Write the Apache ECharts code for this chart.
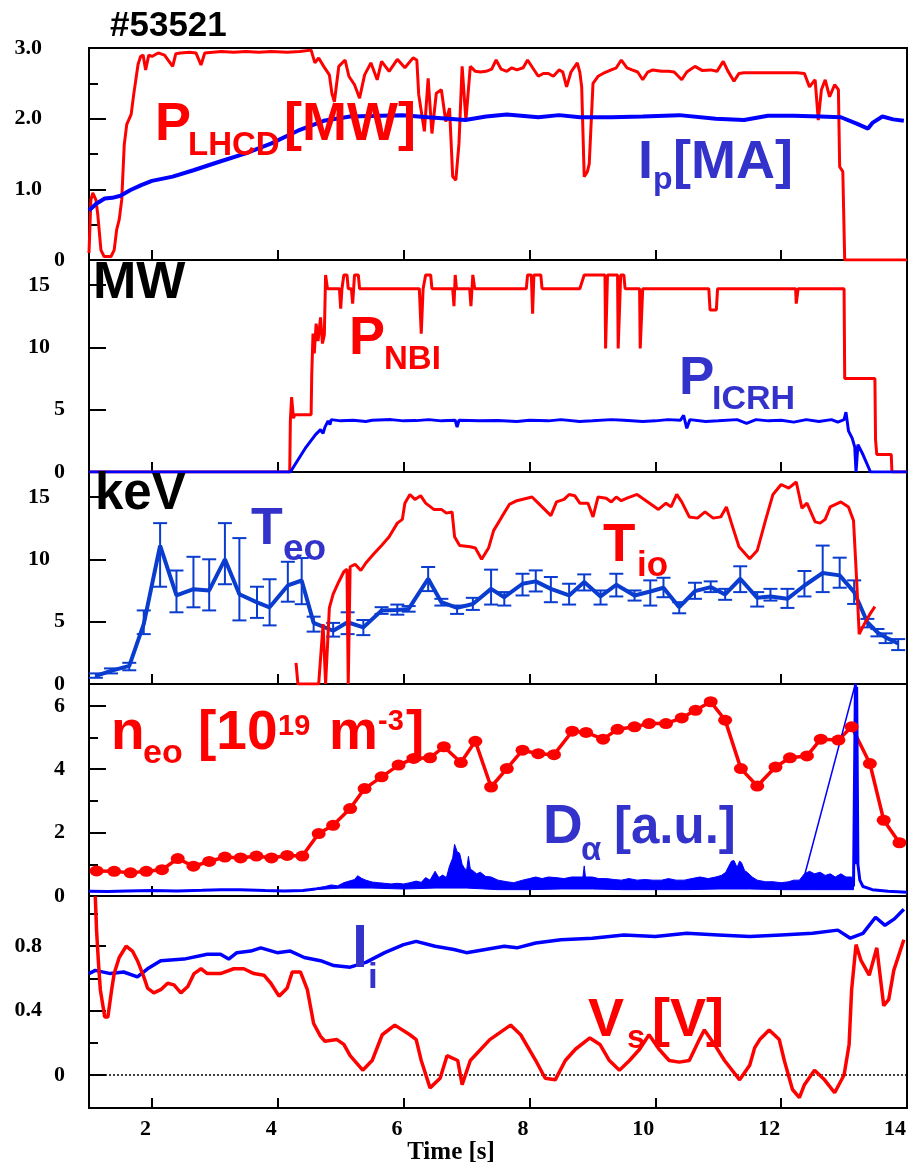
<!DOCTYPE html>
<html>
<head>
<meta charset="utf-8">
<script src="https://cdn.jsdelivr.net/npm/echarts@6/dist/echarts.min.js"></script>
<style>
html,body{margin:0;padding:0;background:#fff;}
#chart{width:911px;height:1169px;}
</style>
</head>
<body>
<div id="chart"></div>
<script>
// ---------------- DATA ----------------
const shotLabel = '#53521';
const timeTicks = [2, 4, 6, 8, 10, 12, 14];

// Panel 1: P_LHCD [MW] and Ip [MA]
const pLHCD = [[1.0,0.1],[1.03,0.85],[1.06,0.95],[1.11,0.85],[1.14,0.64],[1.19,0.14],[1.24,0.05],[1.35,0.05],[1.40,0.14],[1.44,0.43],[1.48,0.57],[1.52,0.85],[1.56,1.63],[1.60,1.92],[1.67,2.06],[1.71,2.34],[1.78,2.77],[1.82,2.88],[1.86,2.9],[1.9,2.69],[1.95,2.9],[2.0,2.88],[2.1,2.93],[2.2,2.9],[2.33,2.74],[2.38,2.92],[2.45,2.93],[2.6,2.94],[2.7,2.93],[2.78,2.76],[2.84,2.93],[2.87,2.94],[3.1,2.95],[3.3,2.94],[3.49,2.95],[3.7,2.94],[3.9,2.95],[4.15,2.94],[4.35,2.95],[4.53,2.97],[4.59,2.79],[4.65,2.86],[4.73,2.74],[4.82,2.62],[4.86,2.36],[4.9,2.24],[4.97,2.74],[5.07,2.83],[5.13,2.6],[5.22,2.48],[5.3,2.29],[5.38,2.62],[5.48,2.79],[5.58,2.55],[5.65,2.81],[5.77,2.67],[5.9,2.84],[6.02,2.72],[6.15,2.86],[6.21,2.83],[6.24,2.34],[6.33,1.82],[6.39,2.57],[6.45,1.79],[6.52,2.36],[6.6,2.41],[6.67,1.96],[6.73,2.15],[6.78,1.18],[6.83,1.13],[6.88,1.65],[6.93,2.74],[6.99,1.98],[7.06,2.74],[7.14,2.67],[7.22,2.66],[7.31,2.67],[7.4,2.7],[7.47,2.83],[7.55,2.7],[7.64,2.67],[7.72,2.72],[7.8,2.69],[7.9,2.72],[7.97,2.83],[8.05,2.72],[8.14,2.6],[8.22,2.64],[8.3,2.64],[8.38,2.6],[8.47,2.69],[8.53,2.66],[8.59,2.45],[8.66,2.66],[8.76,2.79],[8.8,2.66],[8.83,2.45],[8.87,1.18],[8.92,1.25],[8.95,1.36],[9.01,2.5],[9.09,2.6],[9.17,2.64],[9.3,2.69],[9.38,2.72],[9.46,2.83],[9.55,2.72],[9.63,2.69],[9.72,2.66],[9.8,2.55],[9.88,2.66],[9.96,2.69],[10.1,2.67],[10.21,2.67],[10.3,2.66],[10.42,2.55],[10.5,2.66],[10.63,2.74],[10.75,2.68],[10.88,2.69],[10.98,2.67],[11.08,2.81],[11.15,2.68],[11.25,2.53],[11.33,2.64],[11.41,2.65],[11.6,2.65],[11.79,2.65],[12.0,2.65],[12.12,2.65],[12.25,2.65],[12.37,2.64],[12.45,2.45],[12.54,2.55],[12.59,1.98],[12.64,2.41],[12.7,2.55],[12.77,2.31],[12.85,2.48],[12.91,2.41],[12.93,1.32],[12.98,1.25],[13.01,0],[14,0]];
const ip = [[1.0,0.70],[1.12,0.80],[1.25,0.87],[1.37,0.88],[1.5,0.91],[1.66,0.99],[1.83,1.06],[2.0,1.12],[2.33,1.18],[2.66,1.27],[3.07,1.39],[3.49,1.51],[3.9,1.65],[4.32,1.83],[4.73,1.97],[5.15,2.03],[5.98,2.05],[6.39,2.02],[6.98,1.98],[7.31,2.03],[7.64,2.06],[8.14,2.02],[8.47,2.05],[8.8,2.02],[9.3,2.02],[9.8,2.03],[10.38,2.05],[10.96,2.0],[11.41,1.98],[11.79,2.04],[12.2,2.04],[12.62,2.03],[12.95,2.02],[13.2,1.93],[13.38,1.86],[13.45,1.94],[13.61,2.03],[13.78,1.99],[13.95,1.97]];

// Panel 2: P_NBI and P_ICRH [MW]
const pNBI = [[1.0,0],[4.19,0],[4.2,4.1],[4.22,6.0],[4.25,4.3],[4.27,4.6],[4.53,4.6],[4.54,7.8],[4.56,11.1],[4.58,9.5],[4.61,11.9],[4.64,10.5],[4.68,12.4],[4.71,10.3],[4.74,11.0],[4.76,15.8],[4.79,14.7],[4.98,14.7],[5.0,13.1],[5.02,14.7],[5.05,15.8],[5.1,15.8],[5.12,14.7],[5.17,14.7],[5.19,13.5],[5.22,15.8],[5.28,15.8],[5.3,14.7],[6.25,14.7],[6.28,11.1],[6.31,14.7],[6.35,15.8],[6.43,15.8],[6.45,14.7],[6.78,14.7],[6.8,13.3],[6.82,15.8],[6.84,14.7],[7.05,14.7],[7.07,13.3],[7.1,15.8],[7.13,14.7],[7.95,14.7],[7.97,15.8],[8.03,15.8],[8.05,12.7],[8.07,15.8],[8.18,15.8],[8.2,14.7],[8.8,14.7],[8.87,15.8],[9.2,15.8],[9.21,9.9],[9.23,9.9],[9.24,15.8],[9.4,15.8],[9.41,9.9],[9.44,9.9],[9.45,15.8],[9.5,15.8],[9.52,14.7],[9.75,14.7],[9.76,9.9],[9.79,9.9],[9.8,14.7],[10.85,14.7],[10.87,13.0],[10.97,13.0],[10.99,14.7],[12.23,14.7],[12.24,13.5],[12.26,13.5],[12.27,14.7],[13.0,14.7],[13.01,7.5],[13.49,7.5],[13.5,2.6],[13.52,1.4],[13.75,1.4],[13.76,0],[14,0]];
const pICRH = [[1.0,0],[4.2,0],[4.3,0.8],[4.45,2.0],[4.6,3.0],[4.68,3.4],[4.72,3.1],[4.75,3.6],[4.8,4.1],[4.83,3.8],[4.85,4.2],[5.0,4.1],[5.2,4.15],[5.4,4.05],[5.5,4.15],[5.8,4.2],[6.0,4.1],[6.2,4.12],[6.4,4.2],[6.6,4.1],[6.82,4.15],[6.85,3.6],[6.88,4.15],[7.2,4.1],[7.5,4.12],[7.8,4.05],[8.0,4.15],[8.3,4.1],[8.5,4.2],[8.8,4.05],[9.0,4.1],[9.3,4.2],[9.5,4.15],[9.8,4.05],[10.0,4.1],[10.2,4.2],[10.4,4.15],[10.45,4.55],[10.5,3.5],[10.55,4.2],[10.8,4.05],[11.0,4.1],[11.3,4.2],[11.45,3.9],[11.6,4.2],[11.8,4.1],[12.0,4.15],[12.2,4.0],[12.4,4.2],[12.6,4.05],[12.8,4.2],[12.9,4.0],[13.0,4.2],[13.03,4.8],[13.07,3.3],[13.13,2.7],[13.17,2.0],[13.19,0],[13.22,2.2],[13.3,1.4],[13.42,0],[14,0]];

// Panel 3: Ti0 and Te0 [keV] (Te0 with error bars: t, value, low, high)
const tio = [[4.29,1.7],[4.32,0],[4.65,0],[4.72,4.8],[4.76,0],[4.82,6.1],[4.88,7.2],[4.97,8.2],[5.05,9.0],[5.1,9.2],[5.12,0],[5.15,9.4],[5.23,9.6],[5.32,9.1],[5.4,9.7],[5.52,10.4],[5.65,11.1],[5.77,11.8],[5.9,12.9],[5.98,13.2],[6.02,14.5],[6.1,15.2],[6.18,14.8],[6.27,15.1],[6.35,14.5],[6.48,14.0],[6.6,14.0],[6.68,13.7],[6.77,13.8],[6.81,11.8],[6.89,11.1],[7.06,11.0],[7.14,10.9],[7.24,10.0],[7.35,10.9],[7.43,12.3],[7.56,13.4],[7.68,14.4],[7.8,14.7],[8.04,15.0],[8.14,14.5],[8.22,14.1],[8.34,13.5],[8.43,14.6],[8.55,14.8],[8.63,15.2],[8.72,15.1],[8.8,14.5],[8.93,14.5],[9.01,13.4],[9.09,15.0],[9.22,14.9],[9.3,14.6],[9.38,15.0],[9.46,14.7],[9.55,14.9],[9.71,15.2],[9.88,14.6],[10.05,14.0],[10.17,14.5],[10.25,14.2],[10.34,15.2],[10.42,14.6],[10.54,13.4],[10.67,13.3],[10.79,13.8],[10.92,13.3],[11.04,13.4],[11.13,14.2],[11.21,12.9],[11.33,11.0],[11.5,10.05],[11.62,10.7],[11.75,13.1],[11.87,15.2],[12.0,16.0],[12.12,15.7],[12.24,16.2],[12.33,14.1],[12.41,14.5],[12.54,13.0],[12.62,12.9],[12.7,13.2],[12.78,14.2],[12.95,14.6],[13.07,14.2],[13.15,13.1],[13.2,8.3],[13.24,4.0],[13.32,4.8],[13.41,5.6],[13.49,6.2]];
const teo = [[1.11,0.65,0.5,0.85],[1.35,1.05,0.85,1.25],[1.64,1.45,1.1,1.7],[1.87,4.8,4.0,5.9],[2.13,11.1,7.8,12.9],[2.39,7.1,5.75,9.1],[2.66,7.6,6.15,10.2],[2.91,7.5,5.9,10.0],[3.16,10.0,8.0,12.9],[3.39,7.2,5.1,11.7],[3.67,6.55,5.3,7.8],[3.87,6.15,4.7,8.4],[4.16,7.9,6.6,9.8],[4.38,8.3,6.4,10.1],[4.57,4.9,4.2,5.4],[4.88,4.27,3.8,4.9],[5.11,4.95,4.0,5.75],[5.36,4.54,3.92,5.13],[5.65,5.89,5.62,6.16],[5.9,5.94,5.56,6.37],[6.08,6.02,5.8,6.25],[6.39,8.44,7.45,9.38],[6.6,6.56,6.29,6.83],[6.85,6.1,5.62,6.29],[7.1,6.42,5.94,6.91],[7.39,7.63,6.37,9.17],[7.6,6.96,6.29,7.37],[7.89,8.04,7.1,8.84],[8.1,8.23,7.42,9.11],[8.34,7.63,6.56,8.58],[8.63,7.1,6.37,8.04],[8.87,8.17,7.5,8.79],[9.13,7.02,6.37,7.5],[9.38,7.96,7.02,8.84],[9.67,7.1,6.69,7.5],[9.92,7.42,6.29,8.31],[10.13,7.72,6.96,8.52],[10.38,6.16,5.67,6.56],[10.63,7.45,6.83,8.12],[10.88,7.77,7.37,8.23],[11.11,7.18,6.75,7.63],[11.35,8.44,7.37,9.44],[11.62,6.91,6.21,7.37],[11.83,7.02,6.69,7.63],[12.1,6.83,6.1,7.63],[12.37,7.9,7.02,9.06],[12.66,8.9,7.37,11.1],[12.93,8.71,7.72,10.13],[13.16,7.37,6.42,8.31],[13.37,4.95,4.54,5.22],[13.53,4.14,3.82,4.41],[13.66,3.74,3.28,4.06],[13.86,3.25,2.72,3.6]];

// Panel 4: ne0 [1e19 m^-3] and D-alpha [a.u.]
const neo = [[1.12,0.79],[1.40,0.78],[1.66,0.73],[1.91,0.78],[2.16,0.83],[2.41,1.18],[2.66,0.94],[2.91,1.09],[3.16,1.23],[3.41,1.20],[3.66,1.26],[3.90,1.20],[4.15,1.28],[4.39,1.26],[4.65,1.97],[4.88,2.23],[5.15,2.76],[5.38,3.39],[5.65,3.76],[5.92,4.13],[6.16,4.34],[6.42,4.36],[6.64,4.71],[6.91,4.21],[7.14,4.88],[7.39,3.44],[7.64,4.02],[7.89,4.60],[8.14,4.49],[8.39,4.46],[8.68,5.20],[8.90,5.16],[9.17,4.95],[9.40,5.26],[9.67,5.34],[9.90,5.44],[10.17,5.44],[10.42,5.62],[10.64,5.86],[10.88,6.13],[11.11,5.55],[11.36,4.02],[11.62,3.47],[11.91,4.07],[12.14,4.36],[12.41,4.42],[12.63,4.95],[12.91,4.92],[13.12,5.34],[13.41,4.18],[13.63,2.39],[13.88,1.68]];
const daBase = [[1.0,0.15],[1.3,0.14],[1.6,0.16],[2.0,0.17],[2.4,0.16],[2.8,0.18],[3.1,0.2],[3.4,0.2],[3.8,0.17],[4.1,0.16],[4.4,0.17],[4.6,0.22]];
const daUpper = [[4.6,0.25],[4.75,0.3],[4.85,0.35],[4.95,0.32],[5.05,0.42],[5.15,0.48],[5.22,0.52],[5.27,0.64],[5.33,0.56],[5.4,0.5],[5.5,0.44],[5.6,0.42],[5.7,0.4],[5.8,0.38],[5.9,0.4],[6.0,0.38],[6.1,0.42],[6.2,0.47],[6.28,0.43],[6.35,0.58],[6.42,0.5],[6.5,0.78],[6.56,0.58],[6.62,0.66],[6.68,0.58],[6.73,0.95],[6.78,1.2],[6.81,1.63],[6.85,1.4],[6.89,1.35],[6.93,1.0],[6.96,0.9],[7.0,0.8],[7.03,1.25],[7.06,0.85],[7.1,0.8],[7.16,0.7],[7.22,0.75],[7.3,0.62],[7.39,0.6],[7.5,0.5],[7.64,0.45],[7.75,0.42],[7.89,0.5],[8.0,0.55],[8.1,0.6],[8.2,0.55],[8.3,0.6],[8.42,0.58],[8.55,0.55],[8.67,0.6],[8.8,0.6],[8.85,0.6],[8.87,0.95],[8.89,0.6],[9.0,0.6],[9.1,0.55],[9.22,0.55],[9.35,0.52],[9.46,0.5],[9.58,0.55],[9.71,0.5],[9.84,0.52],[9.96,0.5],[10.1,0.5],[10.21,0.55],[10.33,0.5],[10.46,0.5],[10.58,0.55],[10.71,0.6],[10.84,0.55],[10.96,0.6],[11.05,0.65],[11.12,0.75],[11.17,0.95],[11.21,1.1],[11.25,1.12],[11.3,0.9],[11.34,1.1],[11.37,1.05],[11.42,0.8],[11.46,0.75],[11.54,0.6],[11.62,0.5],[11.75,0.45],[11.87,0.45],[12.0,0.42],[12.12,0.45],[12.2,0.5],[12.29,0.5],[12.37,0.7],[12.45,0.78],[12.53,0.7],[12.62,0.75],[12.7,0.65],[12.78,0.7],[12.86,0.6],[12.95,0.7],[13.03,0.6],[13.12,0.6],[13.15,0.4]];
const daLower = [[4.6,0.2],[5.0,0.25],[5.5,0.25],[6.0,0.22],[6.5,0.25],[7.0,0.25],[7.5,0.2],[8.0,0.2],[8.5,0.22],[9.0,0.22],[9.5,0.2],[10.0,0.2],[10.5,0.2],[11.0,0.22],[11.5,0.22],[12.0,0.2],[12.5,0.2],[13.0,0.2],[13.15,0.2]];
const daRamp = [[12.33,0.34],[13.18,6.7]];
const daSpike = [[13.15,0.3],[13.18,6.7],[13.19,1.0],[13.2,6.6],[13.22,1.0],[13.25,0.5],[13.3,0.3],[13.45,0.2],[13.7,0.15],[14.0,0.12]];

// Panel 5: li and Vs [V]
const li = [[1.0,0.63],[1.1,0.65],[1.34,0.63],[1.55,0.64],[1.77,0.61],[1.93,0.66],[2.14,0.71],[2.51,0.72],[2.88,0.75],[3.09,0.75],[3.22,0.72],[3.35,0.76],[3.57,0.77],[3.73,0.79],[3.99,0.76],[4.2,0.77],[4.42,0.73],[4.68,0.71],[4.89,0.68],[5.15,0.67],[5.4,0.70],[5.7,0.76],[6.0,0.81],[6.2,0.83],[6.5,0.80],[6.8,0.78],[7.0,0.76],[7.3,0.78],[7.6,0.80],[7.8,0.79],[8.1,0.82],[8.5,0.84],[9.0,0.85],[9.5,0.87],[10.0,0.86],[10.5,0.88],[11.0,0.87],[11.5,0.86],[12.0,0.87],[12.5,0.88],[12.9,0.90],[13.1,0.85],[13.3,0.88],[13.5,0.98],[13.65,0.93],[13.8,0.97],[13.95,1.03]];
const vs = [[1.1,1.11],[1.12,0.90],[1.15,0.70],[1.18,0.53],[1.25,0.36],[1.3,0.36],[1.36,0.53],[1.4,0.63],[1.48,0.73],[1.59,0.80],[1.69,0.77],[1.77,0.71],[1.88,0.60],[1.93,0.54],[2.03,0.51],[2.14,0.53],[2.25,0.57],[2.35,0.56],[2.46,0.51],[2.57,0.55],[2.67,0.63],[2.78,0.66],[2.88,0.63],[3.09,0.63],[3.3,0.66],[3.46,0.66],[3.62,0.63],[3.78,0.62],[3.89,0.57],[4.02,0.49],[4.1,0.52],[4.15,0.54],[4.23,0.64],[4.36,0.64],[4.47,0.53],[4.57,0.32],[4.68,0.24],[4.75,0.21],[4.94,0.22],[5.05,0.19],[5.15,0.12],[5.35,0.03],[5.5,0.09],[5.66,0.25],[5.86,0.31],[6.1,0.25],[6.2,0.22],[6.28,0.09],[6.42,-0.08],[6.58,-0.02],[6.69,0.12],[6.86,0.09],[6.93,-0.06],[7.06,0.09],[7.37,0.22],[7.7,0.31],[7.86,0.25],[8.1,0.09],[8.25,-0.02],[8.41,-0.03],[8.57,0.09],[8.73,0.16],[8.96,0.23],[9.12,0.19],[9.27,0.09],[9.43,0.03],[9.59,0.09],[9.75,0.16],[9.9,0.25],[10.06,0.16],[10.22,0.09],[10.38,0.08],[10.54,0.09],[10.7,0.22],[10.78,0.28],[10.94,0.19],[11.1,0.09],[11.34,-0.03],[11.5,0.06],[11.58,0.17],[11.66,0.22],[11.81,0.28],[11.97,0.22],[12.05,0.09],[12.18,-0.09],[12.29,-0.14],[12.37,-0.06],[12.53,0.03],[12.69,-0.03],[12.85,-0.11],[13.0,0.0],[13.08,0.19],[13.12,0.53],[13.19,0.81],[13.27,0.71],[13.4,0.62],[13.52,0.79],[13.63,0.43],[13.71,0.47],[13.79,0.65],[13.95,0.84]];
const zeroLine = [[1,0],[14,0]];

// ---------------- STYLE ----------------
const RED = '#ff0000', BLUE = '#0000ff', TXTBLUE = '#3333cc', TEBLUE = '#0a3ccf';
const SERIF = "'Liberation Serif','Times New Roman',serif";
const SANS = "'Liberation Sans',Arial,sans-serif";
const G = {left: 89, width: 818, h: 212, tops: [48, 260, 472, 684, 896]};

const chart = echarts.init(document.getElementById('chart'), null, {renderer: 'canvas'});

const grids = G.tops.map(t => ({left: G.left, top: t, width: G.width, height: G.h, show: true, borderColor: '#000', borderWidth: 2, backgroundColor: 'transparent', containLabel: false}));

const xAxes = G.tops.map((t, i) => ({
  type: 'value', gridIndex: i, min: 1, max: 14,
  axisLine: {show: true, onZero: false, lineStyle: {color: '#000', width: 2}},
  axisTick: {show: true, inside: true, length: 10, customValues: timeTicks, lineStyle: {color: '#000', width: 2}},
  axisLabel: {show: i === 4, customValues: timeTicks, margin: 10, align: 'right', padding: [0, 1, 0, 0], color: '#000', fontFamily: SERIF, fontWeight: 'bold', fontSize: 22},
  splitLine: {show: false}
}));

const labRich = {
  a: {fontFamily: SERIF, fontWeight: 'bold', fontSize: 22, color: '#000', padding: [0, 0, 0, 0]},
  b: {fontFamily: SERIF, fontWeight: 'bold', fontSize: 22, color: '#000', padding: [0, 15, 0, 0]},
  c: {fontFamily: SERIF, fontWeight: 'bold', fontSize: 22, color: '#000', padding: [0, 23, 0, 0]}
};
function yPair(gi, min, max, majors, minors, fmt) {
  const out = [{
    type: 'value', gridIndex: gi, min: min, max: max, position: 'left',
    axisLine: {show: true, onZero: false, lineStyle: {color: '#000', width: 2}},
    axisTick: {show: true, inside: true, length: 17, customValues: majors, lineStyle: {color: '#000', width: 2}},
    axisLabel: {show: true, customValues: majors, margin: 24, align: 'right', rich: labRich,
      formatter: v => { const s = fmt(v); const k = s.length === 1 ? 'a' : (s.length === 2 ? 'b' : 'c'); return '{' + k + '|' + s + '}'; }},
    splitLine: {show: false}
  }];
  if (minors.length) out.push({
    type: 'value', gridIndex: gi, min: min, max: max, position: 'left',
    axisLine: {show: false}, axisLabel: {show: false}, splitLine: {show: false},
    axisTick: {show: true, inside: true, length: 9, customValues: minors, lineStyle: {color: '#000', width: 2}}
  });
  return out;
}
const f1 = v => v === 0 ? '0' : v.toFixed(1);
const fi = v => String(Math.round(v));
const yAxes = [].concat(
  yPair(0, 0, 3.0, [0, 1, 2, 3], [0.5, 1.5, 2.5], f1),      // 0,1
  yPair(1, 0, 17, [0, 5, 10, 15], [], fi),                   // 2
  yPair(2, 0, 17, [0, 5, 10, 15], [], fi),                   // 3
  yPair(3, 0, 6.69, [0, 2, 4, 6], [1, 3, 5], fi),            // 4,5
  yPair(4, -0.205, 1.112, [0, 0.4, 0.8], [0.2, 0.6, 1.0], f1) // 6,7
);
const YI = [0, 2, 3, 4, 6];

function line(gi, data, color, width, extra) {
  return Object.assign({type: 'line', xAxisIndex: gi, yAxisIndex: YI[gi], data: data, showSymbol: false, symbol: 'none',
    lineStyle: {color: color, width: width}, itemStyle: {color: color}, silent: true, animation: false}, extra || {});
}

// error bars for Te0
const errBars = {
  type: 'custom', xAxisIndex: 2, yAxisIndex: YI[2], data: teo, encode: {x: 0, y: [1, 2, 3]}, silent: true, animation: false,
  renderItem: (params, api) => {
    const x = api.value(0), lo = api.value(2), hi = api.value(3);
    const a = api.coord([x, lo]), b = api.coord([x, hi]);
    const w = 7, st = {stroke: TEBLUE, lineWidth: 2};
    return {type: 'group', children: [
      {type: 'line', shape: {x1: a[0], y1: a[1], x2: b[0], y2: b[1]}, style: st},
      {type: 'line', shape: {x1: a[0] - w, y1: a[1], x2: a[0] + w, y2: a[1]}, style: st},
      {type: 'line', shape: {x1: b[0] - w, y1: b[1], x2: b[0] + w, y2: b[1]}, style: st}
    ]};
  }
};

// D-alpha noisy band as polygon between envelopes
const daBand = {
  type: 'custom', xAxisIndex: 3, yAxisIndex: YI[3], data: [daUpper[0]], encode: {x: 0, y: 1}, silent: true, animation: false,
  renderItem: (params, api) => {
    const pts = daUpper.map(p => api.coord(p)).concat(daLower.slice().reverse().map(p => api.coord(p)));
    return {type: 'polygon', shape: {points: pts}, style: {fill: BLUE, stroke: BLUE, lineWidth: 1}};
  }
};

const series = [
  line(0, pLHCD, RED, 3),
  line(0, ip, BLUE, 4),
  line(1, pNBI, RED, 3),
  line(1, pICRH, BLUE, 3),
  errBars,
  line(2, teo.map(d => [d[0], d[1]]), TEBLUE, 4),
  line(2, tio, RED, 3),
  line(3, neo, RED, 3.5, {showSymbol: true, symbol: 'circle', symbolSize: [14, 11]}),
  line(3, daBase, BLUE, 3),
  daBand,
  line(3, daRamp, BLUE, 1.5),
  line(3, daSpike, BLUE, 3),
  line(4, zeroLine, '#000', 1.5, {lineStyle: {color: '#000', width: 1.5, type: [2, 2]}}),
  line(4, li, BLUE, 3.5),
  line(4, vs, RED, 3.5)
];

// ---------------- TEXT ANNOTATIONS ----------------
function T(x, base, text, size, color, fam) {
  return {type: 'text', x: x, y: base - 0.347 * size, silent: true, z: 100,
    style: {text: text, fill: color, font: 'bold ' + size + 'px ' + (fam || SANS),
      align: 'left', verticalAlign: 'middle', textAlign: 'left', textVerticalAlign: 'middle'}};
}
const graphics = [
  T(110, 38, shotLabel, 35, '#000'),
  T(155, 144, 'P', 54, RED), T(188, 157, 'LHCD', 33, RED), T(284, 144, '[MW]', 54, RED),
  T(638, 182, 'I', 54, TXTBLUE), T(653, 191, 'p', 32, TXTBLUE), T(673, 182, '[MA]', 54, TXTBLUE),
  T(93, 302, 'MW', 52, '#000'),
  T(349, 358, 'P', 54, RED), T(384, 371, 'NBI', 33, RED),
  T(679, 398, 'P', 53, TXTBLUE), T(712, 411, 'ICRH', 34, TXTBLUE),
  T(95, 513, 'keV', 51, '#000'),
  T(251, 548, 'T', 52, TXTBLUE), T(283, 563, 'eo', 37, TXTBLUE),
  T(603, 565, 'T', 53, RED), T(637, 578, 'io', 35, RED),
  T(111, 753, 'n', 55, RED), T(143, 765, 'eo', 34, RED), T(198, 753, '[10', 55, RED), T(278, 737, '19', 29, RED),
  T(329, 753, 'm', 55, RED), T(378, 732, '-3', 29, RED), T(406, 753, ']', 55, RED),
  T(543, 847, 'D', 55, TXTBLUE), T(581, 862, 'α', 33, TXTBLUE), T(614, 847, '[a.u.]', 51, TXTBLUE),
  T(352, 971, 'l', 58, TXTBLUE), T(368, 990, 'i', 35, TXTBLUE),
  T(588, 1040, 'V', 54, RED), T(627, 1050, 's', 33, RED), T(652, 1040, '[V]', 54, RED),
  {type: 'text', x: 451, y: 1153, silent: true, style: {text: 'Time [s]', fill: '#000', font: 'bold 25px ' + SERIF, align: 'center', verticalAlign: 'middle', textAlign: 'center', textVerticalAlign: 'middle'}}
];

chart.setOption({
  animation: false,
  backgroundColor: '#fff',
  grid: grids, xAxis: xAxes, yAxis: yAxes, series: series, graphic: graphics
});
</script>
</body>
</html>
